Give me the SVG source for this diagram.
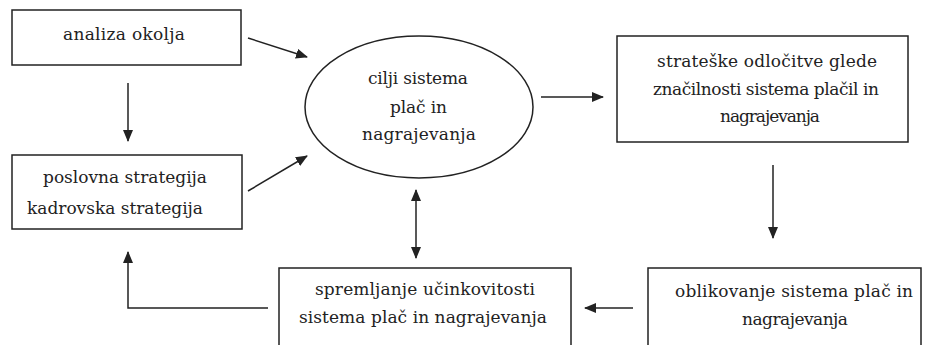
<svg xmlns="http://www.w3.org/2000/svg" width="926" height="345" viewBox="0 0 926 345">
<style>
.box{fill:#fff;stroke:#222;stroke-width:1.5}
.t{font-family:'DejaVu Serif',serif;font-size:17px;fill:#222}
.c{fill:none;stroke:#222;stroke-width:1.5}
</style>
<defs>
<marker id="ah" viewBox="0 0 12 10" refX="11" refY="5" markerWidth="12" markerHeight="10" markerUnits="userSpaceOnUse" orient="auto-start-reverse">
<path d="M0,0 L12,5 L0,10 Z" fill="#222"/>
</marker>
</defs>
<rect width="926" height="345" fill="#fff"/>
<g id="connectors">
<line class="c" x1="128" y1="83" x2="128" y2="141" marker-end="url(#ah)"/>
<line class="c" x1="248" y1="38" x2="307" y2="57" marker-end="url(#ah)"/>
<line class="c" x1="248" y1="191" x2="307" y2="156" marker-end="url(#ah)"/>
<line class="c" x1="541" y1="97" x2="603" y2="97" marker-end="url(#ah)"/>
<line class="c" x1="773" y1="165" x2="773" y2="238" marker-end="url(#ah)"/>
<line class="c" x1="633" y1="308" x2="585" y2="308" marker-end="url(#ah)"/>
<line class="c" x1="416" y1="190" x2="416" y2="258" marker-start="url(#ah)" marker-end="url(#ah)"/>
<polyline class="c" points="268,308 128,308 128,252" marker-end="url(#ah)"/>
</g>
<g id="n1">
<rect class="box" x="12" y="10" width="229" height="55"/>
<text class="t" x="63" y="40" textLength="122">analiza okolja</text>
</g>
<g id="n2">
<rect class="box" x="12" y="155" width="230" height="74"/>
<text class="t" x="43" y="183" textLength="164">poslovna strategija</text>
<text class="t" x="27" y="214" textLength="176">kadrovska strategija</text>
</g>
<g id="n3">
<ellipse class="box" cx="419" cy="107" rx="114" ry="71"/>
<text class="t" x="368" y="84" textLength="100">cilji sistema</text>
<text class="t" x="390" y="113" textLength="57">plač in</text>
<text class="t" x="362" y="140" textLength="114">nagrajevanja</text>
</g>
<g id="n4">
<rect class="box" x="617" y="36" width="291" height="106"/>
<text class="t" x="657" y="67" textLength="220">strateške odločitve glede</text>
<text class="t" x="653" y="95" textLength="226">značilnosti sistema plačil in</text>
<text class="t" x="720" y="122" textLength="100">nagrajevanja</text>
</g>
<g id="n5">
<rect class="box" x="648" y="268" width="273" height="100"/>
<text class="t" x="675" y="297" textLength="238">oblikovanje sistema plač in</text>
<text class="t" x="742" y="325" textLength="106">nagrajevanja</text>
</g>
<g id="n6">
<rect class="box" x="279" y="268" width="292" height="100"/>
<text class="t" x="315" y="295" textLength="220">spremljanje učinkovitosti</text>
<text class="t" x="299" y="323" textLength="248">sistema plač in nagrajevanja</text>
</g>
</svg>
